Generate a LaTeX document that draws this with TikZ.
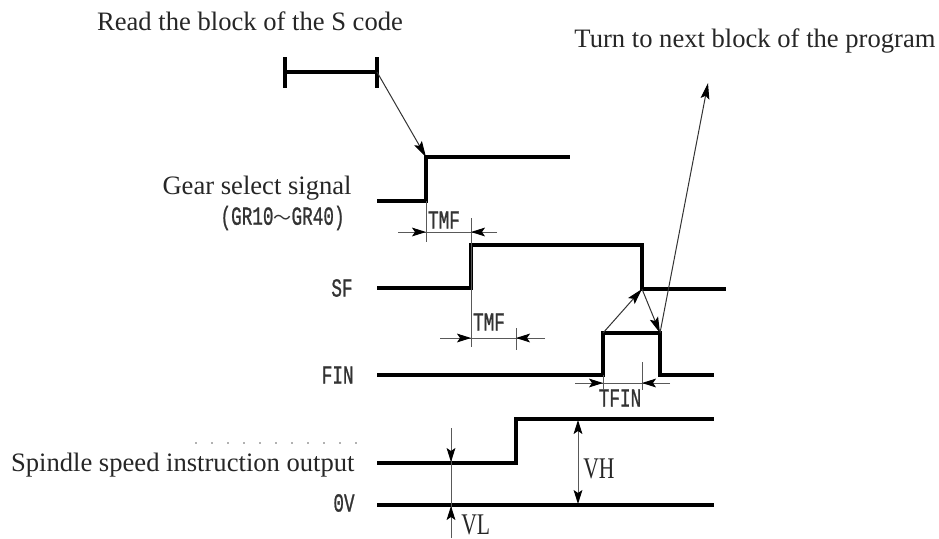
\documentclass[tikz,border=0pt]{standalone}
\usepackage{fontspec}
\usepackage{graphicx}
\setmainfont{Liberation Serif}
\newfontfamily\monof[FakeBold=1.2]{Liberation Mono}
\newfontfamily\cjk{Noto Sans CJK SC}
\usetikzlibrary{arrows.meta}
\newcommand{\mtxt}[1]{\scalebox{0.68}[1]{\monof #1}}
\newcommand{\stxt}[1]{\scalebox{0.72}[1]{#1}}
\begin{document}
\begin{tikzpicture}[x=0.5pt,y=-0.5pt,
  sig/.style={line width=1.6pt,line join=miter},
  dimline/.style={line width=0.5pt,draw=black!65},
  dimtip/.style={dimline,-{Stealth[length=7pt,width=4.4pt,inset=1.5pt,color=black]}},
  flowarrow/.style={line width=0.5pt,draw=black!80,-{Stealth[length=8pt,width=4.4pt,inset=1.5pt,color=black]}},
  lab/.style={inner sep=0pt,font=\fontsize{13.3}{15}\selectfont,text=black!85},
  mlab/.style={inner sep=0pt,font=\fontsize{13}{15}\selectfont,text=black!80}]
\useasboundingbox (0,0) rectangle (939,538);

% ---- text labels
\node[lab] (read) at (250,21) {Read the block of the S code};
\node[lab] (turn) at (755,41) {Turn to next block of the program};
\node[lab,anchor=east] (gear) at (352,188) {Gear select signal};
\node[mlab,anchor=east] (gr) at (345,218) {\mtxt{(GR10}{\cjk\fontsize{9}{11}\selectfont ～}\mtxt{GR40)}};
\node[mlab,anchor=east] (sf) at (353,288) {\mtxt{SF}};
\node[mlab,anchor=east] (fin) at (354,375) {\mtxt{FIN}};
\node[lab,anchor=east] (ssi) at (355,465) {Spindle speed instruction output};
\node[mlab,anchor=east] (zv) at (355,503) {\mtxt{0V}};
\node[mlab] (tmfa) at (444,220) {\mtxt{TMF}};
\node[mlab] (tmfb) at (489,322) {\mtxt{TMF}};
\node[mlab] (tfin) at (620,398) {\mtxt{TFIN}};
\node[lab,anchor=west,font=\fontsize{15}{17}\selectfont] (vh) at (583,469) {\stxt{VH}};
\node[lab,anchor=west,font=\fontsize{15}{17}\selectfont] (vl) at (461,525) {\stxt{VL}};

% faint dotted artefact row
\draw[black!30,line width=0.6pt,dash pattern=on 1pt off 7pt] (195,443) -- (358,443);

% ---- key points
\coordinate (barL) at (285,72);
\coordinate (barR) at (377,72);
\coordinate (gearUp) at (426,157);
\coordinate (sfFall) at (642,289);
\coordinate (finRiseTop) at (603,333);
\coordinate (finFallTop) at (660,333);
\coordinate (nextTip) at (708,83);

% ---- signals
\draw[sig] (barL) -- (barR);
\draw[sig] (285,57) -- (285,88);
\draw[sig] (377,57) -- (377,88);
\draw[sig] (377,201) -- (426,201) -- (gearUp) -- (570,157);
\draw[sig] (377,288) -- (471,288) -- (471,245) -- (642,245) -- (sfFall) -- (726,289);
\draw[sig] (377,375) -- (603,375) -- (finRiseTop) -- (finFallTop) -- (660,375) -- (714,375);
\draw[sig] (377,463) -- (516,463) -- (516,419) -- (714,419);
\draw[sig] (377,505) -- (714,505);

% ---- flow arrows
\draw[flowarrow] (barR) -- (gearUp);
\draw[flowarrow] (finRiseTop) -- (sfFall);
\draw[flowarrow] (sfFall) -- (finFallTop);
\draw[flowarrow] (finFallTop) -- (nextTip);

% ---- TMF (gear -> SF)
\draw[dimline] (426,201) -- (426,242);
\draw[dimline] (471,218) -- (471,347);
\draw[dimline] (398,232) -- (497,232);
\draw[dimtip] (398,232) -- (426,232);
\draw[dimtip] (497,232) -- (471,232);

% ---- TMF (SF -> ...)
\draw[dimline] (516,328) -- (516,350);
\draw[dimline] (440,338) -- (545,338);
\draw[dimtip] (440,338) -- (471,338);
\draw[dimtip] (545,338) -- (516,338);

% ---- TFIN
\draw[dimline] (603,375) -- (603,390);
\draw[dimline] (642,362) -- (642,390);
\draw[dimline] (575,383) -- (670,383);
\draw[dimtip] (575,383) -- (603,383);
\draw[dimtip] (670,383) -- (642,383);

% ---- VH
\draw[dimline,{Stealth[length=7pt,width=4.4pt,inset=1.5pt,color=black]}-{Stealth[length=7pt,width=4.4pt,inset=1.5pt,color=black]}] (578,420) -- (578,504);

% ---- VL
\draw[dimline] (451,428) -- (451,538);
\draw[dimtip] (451,428) -- (451,462);
\draw[dimtip] (451,538) -- (451,506);
\end{tikzpicture}
\end{document}
